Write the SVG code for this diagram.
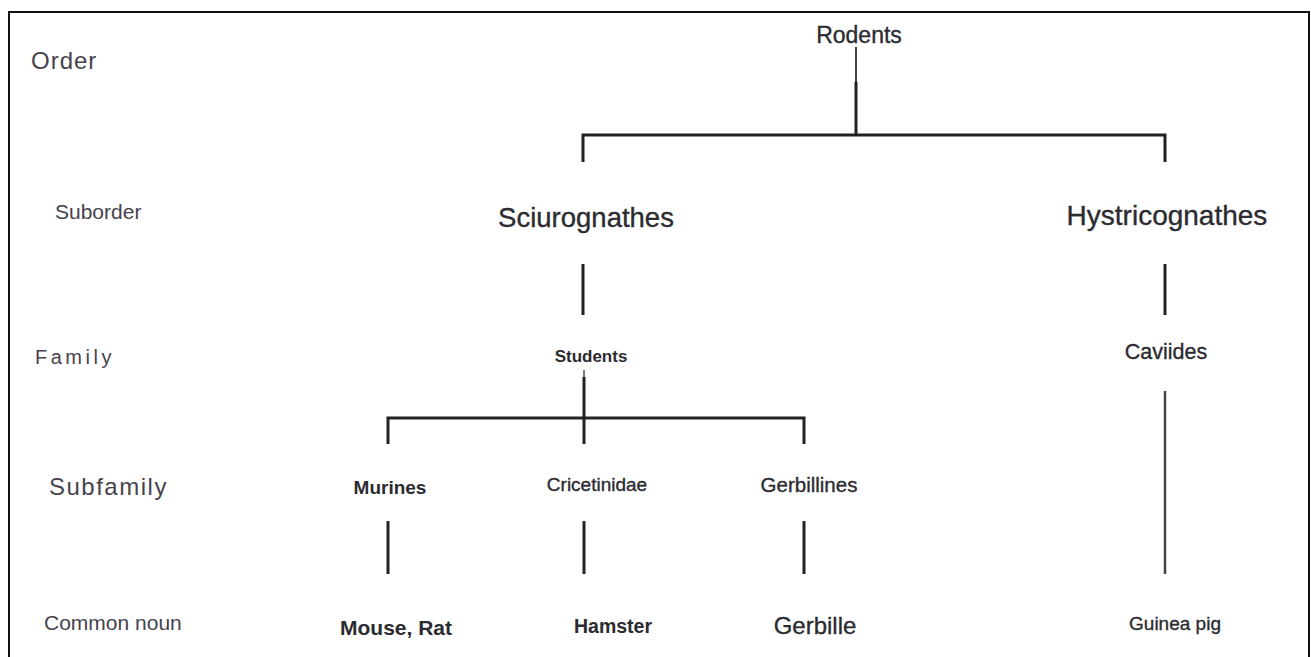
<svg xmlns="http://www.w3.org/2000/svg" width="1311" height="657" viewBox="0 0 1311 657">
<style>
.lvl{font-family:"Liberation Sans",Arial,sans-serif;fill:#47424d}
.n{font-family:"Liberation Sans",Arial,sans-serif;fill:#2b2b30;text-anchor:middle;stroke:#2b2b30;stroke-width:0.35}
.b{font-weight:bold;stroke-width:0}
.c{stroke:#222;stroke-width:3;fill:none;stroke-linecap:butt}
</style>
<rect width="1311" height="657" fill="#fff"/>
<path d="M9,657 V12 H1309 V657" fill="none" stroke="#111" stroke-width="2"/>
<g id="levels">
<text class="lvl" x="31" y="69" font-size="24" letter-spacing="1">Order</text>
<text class="lvl" x="55" y="219" font-size="21">Suborder</text>
<text class="lvl" x="35" y="364" font-size="20" letter-spacing="3.5">Family</text>
<text class="lvl" x="49" y="495" font-size="24" letter-spacing="1.5">Subfamily</text>
<text class="lvl" x="44" y="630" font-size="21">Common noun</text>
</g>
<g id="connectors">
<line x1="856" y1="47" x2="856" y2="82" stroke="#3a3f55" stroke-width="2"/>
<path class="c" d="M856,82 V135 M583,162 V135 H1165 V162"/>
<line class="c" x1="583" y1="264" x2="583" y2="315"/>
<line class="c" x1="1165" y1="264" x2="1165" y2="315"/>
<line x1="584" y1="370" x2="584" y2="377" stroke="#777" stroke-width="2"/>
<path class="c" d="M584,377 V444 M388,444 V418 H804 V444"/>
<line class="c" x1="388" y1="521" x2="388" y2="574"/>
<line class="c" x1="584" y1="521" x2="584" y2="574"/>
<line class="c" x1="804" y1="521" x2="804" y2="574"/>
<line x1="1165" y1="391" x2="1165" y2="574" stroke="#444" stroke-width="2.5"/>
</g>
<g id="rodents"><text class="n" x="859" y="43" font-size="23">Rodents</text></g>
<g id="sciurognathes"><text class="n" x="586" y="227" font-size="27.5">Sciurognathes</text></g>
<g id="hystricognathes"><text class="n" x="1167" y="225" font-size="28">Hystricognathes</text></g>
<g id="students"><text class="n b" x="591" y="362" font-size="17">Students</text></g>
<g id="caviides"><text class="n" x="1166" y="359" font-size="21.5">Caviides</text></g>
<g id="murines"><text class="n b" x="390" y="494" font-size="19">Murines</text></g>
<g id="cricetinidae"><text class="n" x="597" y="491" font-size="19">Cricetinidae</text></g>
<g id="gerbillines"><text class="n" x="809" y="492" font-size="20.5">Gerbillines</text></g>
<g id="mouse-rat"><text class="n b" x="396" y="635" font-size="21">Mouse, Rat</text></g>
<g id="hamster"><text class="n b" x="613" y="633" font-size="19.5">Hamster</text></g>
<g id="gerbille"><text class="n" x="815" y="634" font-size="24">Gerbille</text></g>
<g id="guinea-pig"><text class="n" x="1175" y="630" font-size="19">Guinea pig</text></g>
</svg>
